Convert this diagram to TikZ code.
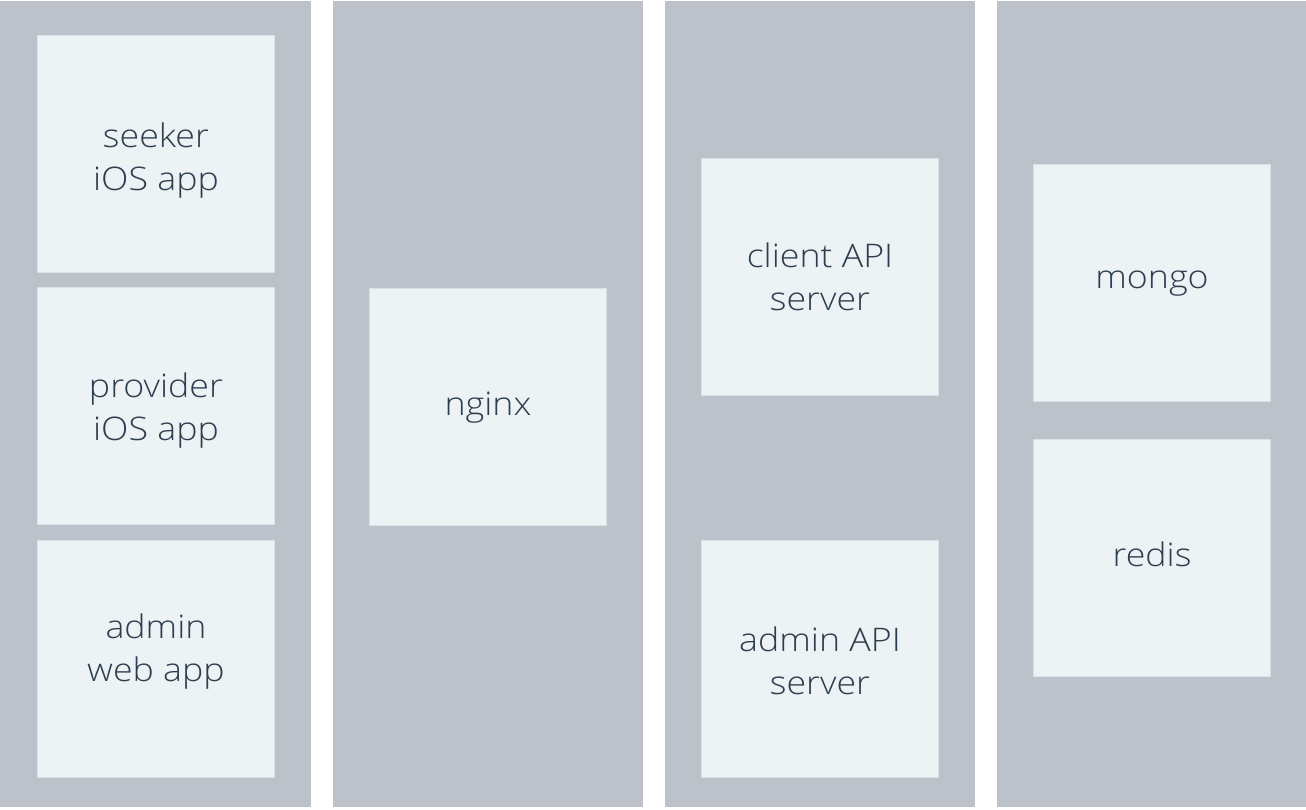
\documentclass[tikz,border=0pt]{standalone}
\usepackage{fontspec}
\setmainfont{Open Sans}[UprightFont=* Light, FakeStretch=1.1]
\definecolor{lanegray}{HTML}{BDC1C9}
\definecolor{boxfill}{HTML}{EDF2F5}
\definecolor{boxline}{HTML}{DCE1E5}
\definecolor{boxtext}{HTML}{2C3E50}
\begin{document}
\begin{tikzpicture}[x=1pt,y=-1pt,
	lane/.style={fill=lanegray, draw=none, minimum width=311pt, minimum height=806pt, inner sep=0pt},
	svc/.style={draw=boxline, line width=0.8pt, fill=boxfill, minimum width=237pt, minimum height=237pt, inner sep=0pt},
	lbl/.style={anchor=base, inner sep=0pt, align=center, text=boxtext, font=\fontsize{32.5}{43}\selectfont}]
	\useasboundingbox (0,0) rectangle (1306,809);
	% Cac cot nen
	\node[lane] (clients) at (155.5,404) {};
	\node[lane, minimum width=310pt] (proxy) at (488,404) {};
	\node[lane, minimum width=310pt] (apis) at (820,404) {};
	\node[lane, minimum width=309pt] (stores) at (1151.5,404) {};
	% Cot 1: ung dung
	\node[svc] (seeker) at (156,153.5) {};
	\node[svc] (provider) at (156,406) {};
	\node[svc] (adminweb) at (156,658.5) {};
	\node[lbl] (seekertxt) at (156,190) {seeker\\iOS app};
	\node[lbl] (providertxt) at (156,440) {provider\\iOS app};
	\node[lbl] (adminwebtxt) at (156,681) {admin\\web app};
	% Cot 2
	\node[svc] (nginx) at (488,407) {};
	\node[lbl] (nginxtxt) at (488,415) {nginx};
	% Cot 3: API
	\node[svc] (clientapi) at (820,277) {};
	\node[svc] (adminapi) at (820,658.5) {};
	\node[lbl] (clientapitxt) at (820,310) {client API\\server};
	\node[lbl] (adminapitxt) at (820,694) {admin API\\server};
	% Cot 4: du lieu
	\node[svc] (mongo) at (1152,283) {};
	\node[svc] (redis) at (1152,558) {};
	\node[lbl] (mongotxt) at (1152,288) {mongo};
	\node[lbl] (redistxt) at (1152,566) {redis};
\end{tikzpicture}
\end{document}
